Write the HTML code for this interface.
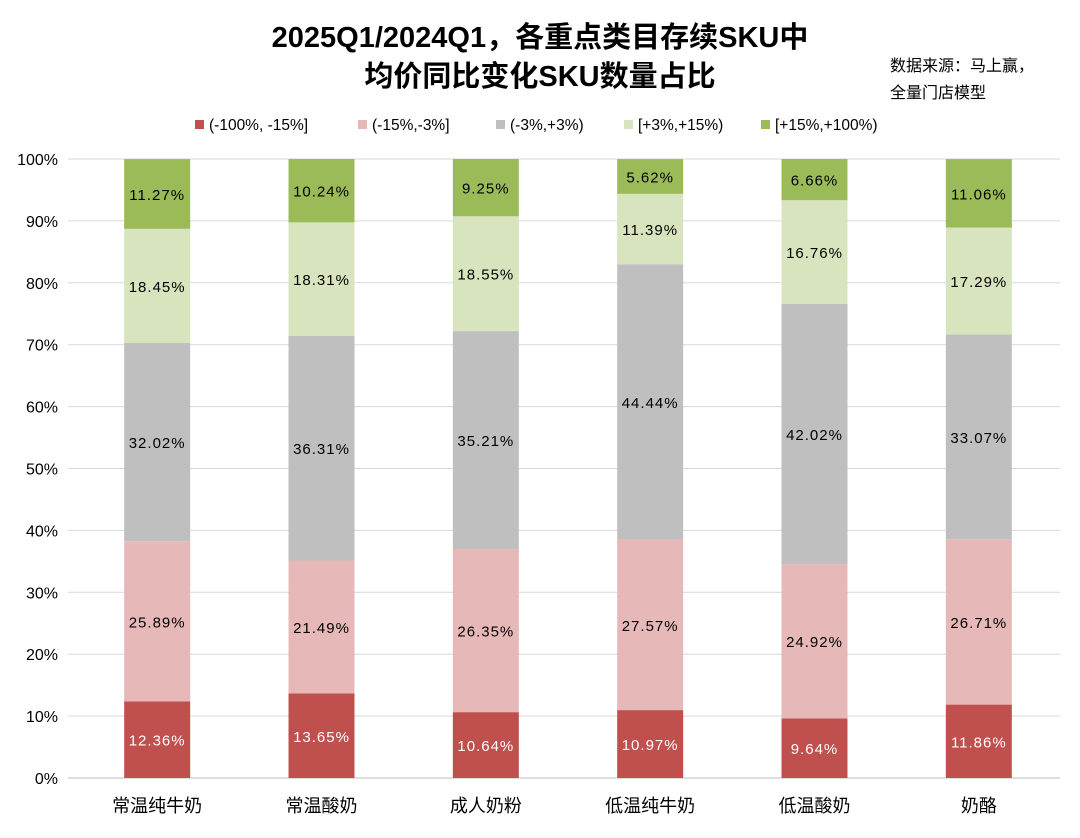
<!DOCTYPE html>
<html><head><meta charset="utf-8"><style>
body{margin:0;background:#fff;}
svg text{font-family:"Liberation Sans","Noto Sans CJK SC",sans-serif;}
</style></head><body>
<svg id="chart" width="1080" height="833" viewBox="0 0 1080 833">
<rect x="0" y="0" width="1080" height="833" fill="#fff"/>
<text x="540" y="47" text-anchor="middle" font-size="29" font-weight="bold" fill="#000">2025Q1/2024Q1，各重点类目存续SKU中</text>
<text x="540" y="86" text-anchor="middle" font-size="29" font-weight="bold" fill="#000">均价同比变化SKU数量占比</text>
<text x="890" y="71" font-size="16" fill="#000">数据来源：马上赢，</text>
<text x="890" y="98" font-size="16" fill="#000">全量门店模型</text>
<g id="legend"></g>
<g id="grid"></g>
<g id="yaxis"></g>
<g id="bars"></g>
<g id="xaxis"></g>
</svg>
<script>
const categories=["常温纯牛奶","常温酸奶","成人奶粉","低温纯牛奶","低温酸奶","奶酪"];
const seriesNames=["(-100%, -15%]","(-15%,-3%]","(-3%,+3%)","[+3%,+15%)","[+15%,+100%)"];
const s1=[12.36,13.65,10.64,10.97,9.64,11.86];
const s2=[25.89,21.49,26.35,27.57,24.92,26.71];
const s3=[32.02,36.31,35.21,44.44,42.02,33.07];
const s4=[18.45,18.31,18.55,11.39,16.76,17.29];
const s5=[11.27,10.24,9.25,5.62,6.66,11.06];
const yTicks=[0,10,20,30,40,50,60,70,80,90,100];
const series=[s1,s2,s3,s4,s5];
const colors=["#C0504D","#E6B9B8","#BFBFBF","#D7E4BD","#9BBB59"];
const textColors=["#fff","#000","#000","#000","#000"];
const NS="http://www.w3.org/2000/svg";
const plotL=75,plotR=1061,y0=778,y100=159;
const y=v=>y0-(y0-y100)*v/100;
const step=(plotR-plotL)/categories.length;
const xc=i=>plotL+step*(i+0.5);
const bw=66;
function mk(tag,attrs,parent){const e=document.createElementNS(NS,tag);for(const k in attrs)e.setAttribute(k,attrs[k]);parent.appendChild(e);return e;}
const grid=document.getElementById('grid'),yax=document.getElementById('yaxis'),bars=document.getElementById('bars'),xax=document.getElementById('xaxis'),leg=document.getElementById('legend');
yTicks.forEach(t=>{
 const l=mk('line',{x1:68,x2:1060,y1:y(t),y2:y(t),stroke:t===0?'#bfbfbf':'#d9d9d9','stroke-width':1},grid);
 
 
 const tx=mk('text',{x:58,y:y(t)+6,'text-anchor':'end','font-size':16,fill:'#000'},yax);
 tx.textContent=t+'%';
 
 
});
categories.forEach((c,i)=>{
 let acc=0;
 series.forEach((s,k)=>{
  const v=s[i];
  const r=mk('rect',{x:xc(i)-bw/2,y:y(acc+v),width:bw,height:y(acc)-y(acc+v),fill:colors[k]},bars);
  
  
  const t=mk('text',{x:xc(i),y:(y(acc)+y(acc+v))/2+6,'text-anchor':'middle','font-size':15,fill:textColors[k],'letter-spacing':1},bars);
  t.textContent=v.toFixed(2)+'%';
  
  
  acc+=v;
 });
 const ct=mk('text',{x:xc(i),y:812,'text-anchor':'middle','font-size':18,fill:'#000'},xax);
 ct.textContent=c;
 
 
});
const legX=[195,358,496,624,761];
seriesNames.forEach((n,k)=>{
 const r=mk('rect',{x:legX[k],y:120,width:9,height:9,fill:colors[k]},leg);
 
 
 const t=mk('text',{x:legX[k]+14,y:130,'font-size':15.5,fill:'#000'},leg);
 t.textContent=n;
 
 
});
</script>
</body></html>
